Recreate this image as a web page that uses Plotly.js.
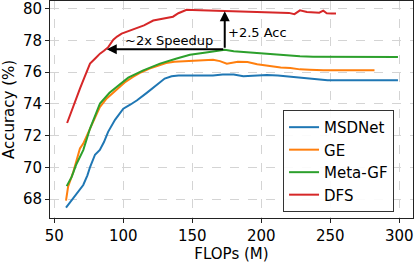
<!DOCTYPE html>
<html>
<head>
<meta charset="utf-8">
<script src="https://cdn.plot.ly/plotly-3.0.1.min.js"></script>
<style>html,body{margin:0;padding:0;background:#fff;}#chart{width:415px;height:263px;}</style>
</head>
<body>
<div id="chart"></div>
<script>
const msdX = [58.5, 62, 66, 71, 74, 76, 79.5, 83, 86, 89, 94, 100, 105, 110, 117, 124, 130, 135, 140, 148, 156, 165, 172, 180, 187, 195, 204, 212, 220, 228, 235, 242, 248, 260, 275, 290, 299];
const msdY = [67.46, 67.85, 68.26, 68.89, 69.5, 70.04, 70.8, 71.1, 71.6, 72.24, 73.0, 73.7, 73.95, 74.23, 74.7, 75.2, 75.6, 75.75, 75.8, 75.8, 75.78, 75.8, 75.85, 75.85, 75.75, 75.8, 75.82, 75.8, 75.74, 75.68, 75.6, 75.55, 75.5, 75.5, 75.48, 75.5, 75.5];

const geX = [58.5, 60, 63.8, 66, 68.6, 71, 73, 76, 80, 83, 88, 95, 101, 107, 113, 119, 125, 131, 137, 143, 150, 157, 165, 170, 175, 183, 190, 197, 206, 214, 221, 228, 235, 245, 260, 282];
const geY = [67.9, 68.78, 69.72, 70.4, 71.19, 71.5, 71.9, 72.45, 73.2, 73.8, 74.35, 74.86, 75.35, 75.7, 76.0, 76.23, 76.42, 76.58, 76.66, 76.69, 76.72, 76.76, 76.79, 76.7, 76.54, 76.66, 76.64, 76.5, 76.37, 76.3, 76.26, 76.18, 76.16, 76.12, 76.12, 76.12];

const mgfX = [59, 62.6, 66, 71, 75.9, 80, 83.1, 90, 97, 103.6, 114.5, 126.6, 138.7, 148.3, 160, 173.5, 180, 186.7, 195, 204, 215, 228, 237.5, 250, 270, 299];
const mgfY = [68.82, 69.4, 70.2, 71.09, 72.45, 73.4, 74.03, 74.7, 75.2, 75.66, 76.12, 76.54, 76.86, 77.1, 77.25, 77.42, 77.32, 77.27, 77.22, 77.17, 77.08, 77.0, 76.98, 76.97, 76.96, 76.96];

const dfsX = [59.3, 62.6, 65.5, 68.6, 72, 75.9, 80, 83.1, 86, 89.1, 92.8, 95.5, 98.8, 104, 109.7, 115, 121.7, 126, 131.4, 136, 139.9, 145.9, 150, 160, 170, 180, 190, 200, 210, 220, 224, 228, 233, 238.9, 242, 244.9, 247.4, 251, 254.1];
const dfsY = [72.8, 73.6, 74.3, 74.97, 75.7, 76.54, 76.9, 77.17, 77.35, 77.58, 78.05, 78.25, 78.43, 78.6, 78.74, 78.95, 79.26, 79.33, 79.43, 79.5, 79.72, 79.94, 79.93, 79.9, 79.88, 79.87, 79.84, 79.8, 79.77, 79.74, 79.66, 79.9, 79.8, 79.78, 79.75, 79.88, 79.72, 79.7, 79.7];

const names = ["MSDNet", "GE", "Meta-GF", "DFS"];
const colors = ["#1f77b4", "#ff7f0e", "#2ca02c", "#d62728"];
const xTicks = [50, 100, 150, 200, 250, 300];
const yTicks = [68, 70, 72, 74, 76, 78, 80];

const arrowBase = {x: 173.5, y: 77.45};
const speedupTip = {x: 88, y: 77.45};
const accTip = {x: 173.5, y: 79.85};

const xs = [msdX, geX, mgfX, dfsX];
const ys = [msdY, geY, mgfY, dfsY];
const traces = names.map((n, i) => ({
  x: xs[i], y: ys[i], name: n, type: 'scatter', mode: 'lines',
  line: {color: colors[i], width: 2}
}));

const font = {family: 'DejaVu Sans', size: 15, color: '#000'};
const axisCommon = {
  showline: true, linecolor: '#222', linewidth: 1, mirror: true,
  ticks: 'outside', ticklen: 4, tickcolor: '#222', tickwidth: 1,
  showgrid: true, gridcolor: '#d4d4d4', griddash: 'dash', gridwidth: 1,
  zeroline: false, tickfont: font
};

const layout = {
  width: 415, height: 263,
  margin: {l: 50, r: 2, t: 1, b: 45},
  paper_bgcolor: '#fff', plot_bgcolor: '#fff',
  font: font,
  showlegend: true,
  xaxis: Object.assign({}, axisCommon, {
    range: [46.9, 309.9], tickvals: xTicks,
    title: {text: 'FLOPs (M)', font: font, standoff: 2}
  }),
  yaxis: Object.assign({}, axisCommon, {
    range: [66.81, 80.49], tickvals: yTicks,
    title: {text: 'Accuracy (%)', font: font, standoff: 4}
  }),
  legend: {
    x: 0.642, y: 0.028, xanchor: 'left', yanchor: 'bottom',
    bgcolor: 'rgba(255,255,255,0.9)', bordercolor: '#333', borderwidth: 1,
    font: font, itemwidth: 30, tracegroupgap: 0
  },
  annotations: [
    {x: speedupTip.x, y: speedupTip.y, ax: arrowBase.x, ay: arrowBase.y,
     xref: 'x', yref: 'y', axref: 'x', ayref: 'y', text: '', showarrow: true,
     arrowhead: 2, arrowsize: 1, arrowwidth: 2, arrowcolor: '#000', standoff: 0, startstandoff: 0},
    {x: accTip.x, y: accTip.y, ax: arrowBase.x, ay: arrowBase.y,
     xref: 'x', yref: 'y', axref: 'x', ayref: 'y', text: '', showarrow: true,
     arrowhead: 2, arrowsize: 1, arrowwidth: 2, arrowcolor: '#000', standoff: 0, startstandoff: 0},
    {x: 133.1, y: 78.0, xref: 'x', yref: 'y', text: '~2x Speedup', showarrow: false,
     font: {family: 'DejaVu Sans', size: 13, color: '#000'}},
    {x: 197, y: 78.53, xref: 'x', yref: 'y', text: '+2.5 Acc', showarrow: false,
     font: {family: 'DejaVu Sans', size: 13, color: '#000'}}
  ]
};

Plotly.newPlot('chart', traces, layout, {displayModeBar: false, staticPlot: true});
</script>
</body>
</html>
